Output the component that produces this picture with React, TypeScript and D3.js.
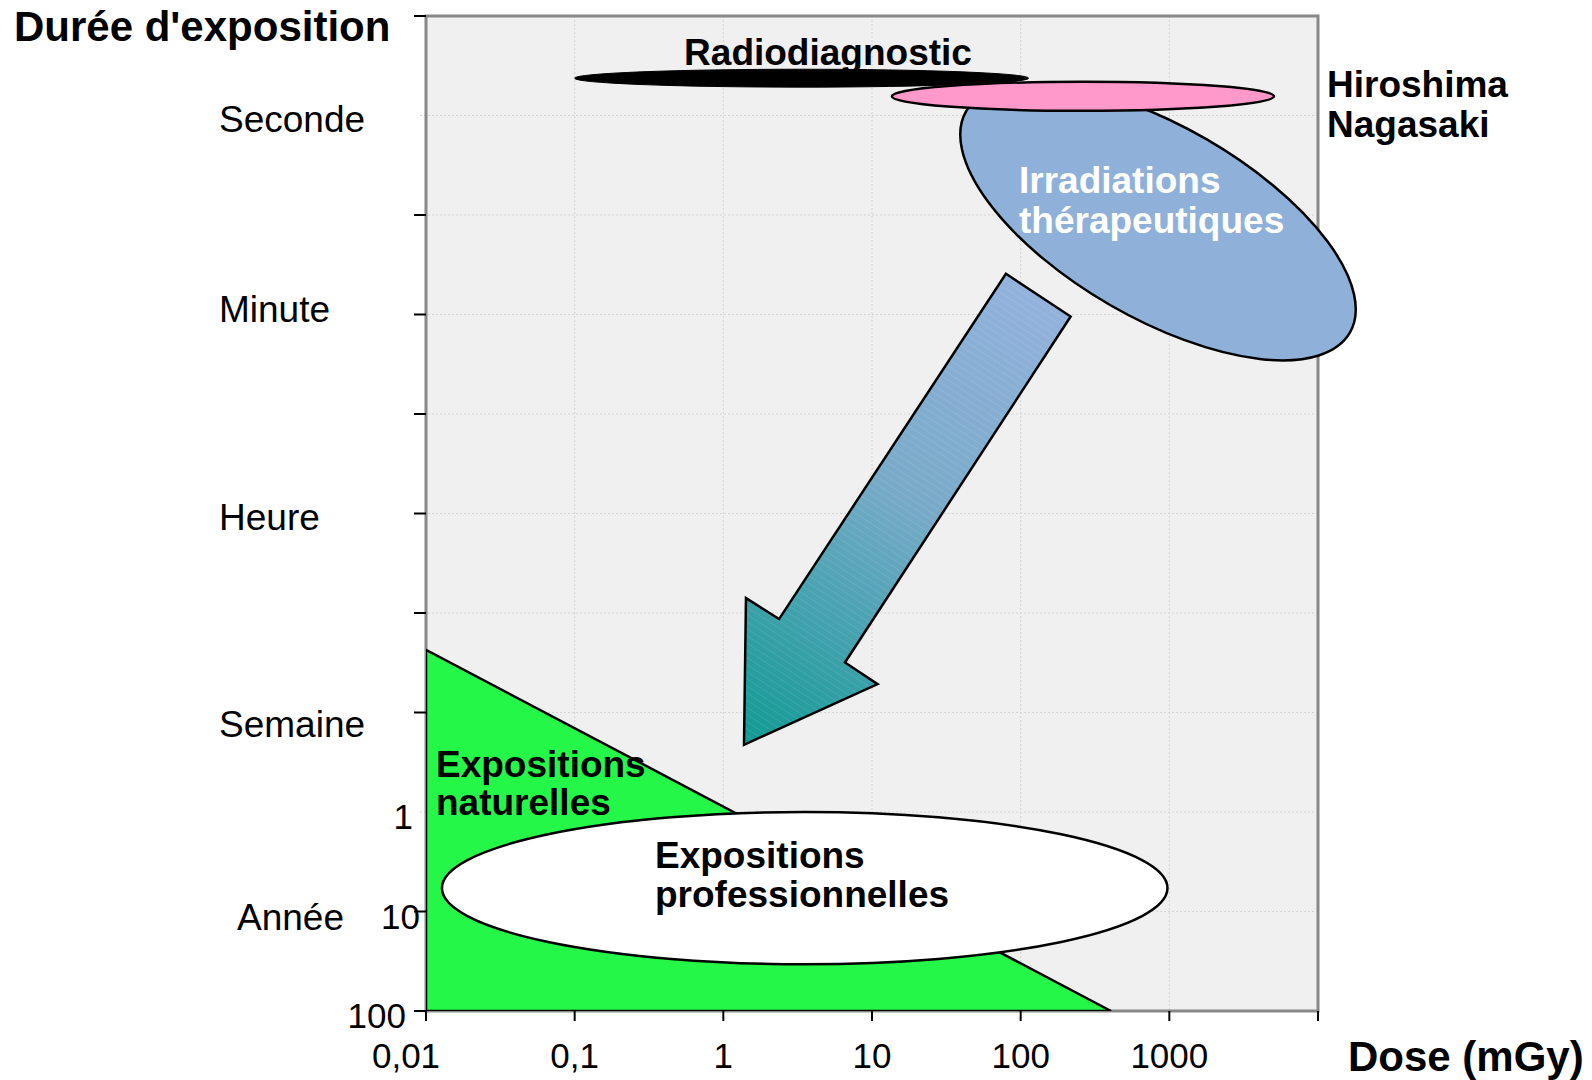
import React from 'react';
import * as d3 from 'd3';

// ---------- data ----------
const doseTicks = [0.01, 0.1, 1, 10, 100, 1000, 10000];
const doseTickLabels = ['0,01', '0,1', '1', '10', '100', '1000', ''];
const durationIdx = [0, 1, 2, 3, 4, 5, 6, 7, 8, 9, 10];
const faintTickIdx = [1, 8];
const durationNames = ['Seconde', 'Minute', 'Heure', 'Semaine', 'Année'];
const durationNamePos = [1.17, 3.08, 5.17, 7.25, 9.19];
const yearLabels = ['1', '10', '100'];
const yearIdx = [8, 9, 10];

// regions (dose in mGy, duration on index scale 0..10)
const radiodiagnostic = { doseMin: 0.1, doseMax: 113, idxMin: 0.535, idxMax: 0.715 };
const hiroshima = { doseMin: 13.6, doseMax: 5060, idxMin: 0.661, idxMax: 0.953 };
const therapy = { dose: 839, idx: 2.07, major: 1.49, minor: 0.645, angle: 30 }; // axes in decades
const professional = { doseMin: 0.0128, doseMax: 972, idxMin: 8.0, idxMax: 9.53 };
const naturalDose = [0.01, 0.01, 405];
const naturalIdx = [6.37, 10, 10];
const arrowDose = [79.6, 216.8, 6.58, 10.9, 1.377, 1.42, 2.37];
const arrowIdx = [2.591, 3.02, 6.497, 6.715, 7.325, 5.85, 6.061];

const W = 1592, H = 1080;
const PL = 426, PR = 1318, PT = 16, PB = 1011;
const FONT = "'Liberation Sans', Arial, Helvetica, sans-serif";

export default function App() {
  const x = d3.scaleLog().domain([0.01, 10000]).range([PL, PR]);
  const y = d3.scaleLinear().domain([0, 10]).range([PT, PB]);
  const decade = x(10) - x(1);

  const ell = (r: { doseMin: number; doseMax: number; idxMin: number; idxMax: number }) => ({
    cx: (x(r.doseMin) + x(r.doseMax)) / 2,
    cy: (y(r.idxMin) + y(r.idxMax)) / 2,
    rx: (x(r.doseMax) - x(r.doseMin)) / 2,
    ry: (y(r.idxMax) - y(r.idxMin)) / 2,
  });
  const rd = ell(radiodiagnostic);
  const hn = ell(hiroshima);
  const pr = ell(professional);
  const tcx = x(therapy.dose), tcy = y(therapy.idx);

  const line = d3.line<[number, number]>().x(d => d[0]).y(d => d[1]);
  const triPath = line(naturalDose.map((d, i) => [x(d), y(naturalIdx[i])] as [number, number])) + 'Z';
  const arrowPts = arrowDose.map((d, i) => [x(d), y(arrowIdx[i])] as [number, number]);
  const arrowPath = line(arrowPts) + 'Z';
  const tailMid = [(arrowPts[0][0] + arrowPts[1][0]) / 2, (arrowPts[0][1] + arrowPts[1][1]) / 2];
  const tip = arrowPts[4];

  const bold = { fontFamily: FONT, fontWeight: 700 as const, fontSize: 37 };
  const normal = { fontFamily: FONT, fontSize: 37 };
  const yearDx = [-13, -6, -20];

  return (
    <div style={{ position: 'absolute', left: 0, top: 0 }}>
      <svg width={W} height={H} viewBox={`0 0 ${W} ${H}`} style={{ display: 'block', background: '#fff' }}>
        <defs>
          <linearGradient id="arrowGrad" gradientUnits="userSpaceOnUse"
            x1={tailMid[0]} y1={tailMid[1]} x2={tip[0]} y2={tip[1]}>
            <stop offset="0" stopColor="#93b2dc" />
            <stop offset="0.45" stopColor="#78aac8" />
            <stop offset="1" stopColor="#109a94" />
          </linearGradient>
          <pattern id="hatch" patternUnits="userSpaceOnUse" width="6" height="6" patternTransform="rotate(33)">
            <line x1="0" y1="0" x2="6" y2="0" stroke="#ffffff" strokeOpacity="0.18" strokeWidth="1" />
          </pattern>
          <clipPath id="plotClip">
            <rect x={PL} y={PT} width={PR - PL} height={PB - PT} />
          </clipPath>
        </defs>

        {/* plot background */}
        <rect x={PL} y={PT} width={PR - PL} height={PB - PT} fill="#f0f0f0" />
        {/* grid */}
        {doseTicks.slice(1, -1).map(d => (
          <line key={'gx' + d} x1={x(d)} x2={x(d)} y1={PT} y2={PB} stroke="#d4d4d4" strokeWidth={1} strokeDasharray="2,2" />
        ))}
        {durationIdx.slice(1, -1).map(i => (
          <line key={'gy' + i} x1={PL - 6} x2={PR} y1={y(i)} y2={y(i)} stroke="#d4d4d4" strokeWidth={1} strokeDasharray="2,2" />
        ))}
        {/* border */}
        <rect x={PL} y={PT} width={PR - PL} height={PB - PT} fill="none" stroke="#888" strokeWidth={3} />

        {/* y ticks */}
        {durationIdx.filter(i => !faintTickIdx.includes(i)).map(i => (
          <line key={'ty' + i} x1={PL - 12} x2={PL} y1={y(i)} y2={y(i)} stroke="#000" strokeWidth={2} />
        ))}
        {/* x ticks */}
        {doseTicks.map(d => (
          <line key={'tx' + d} x1={x(d)} x2={x(d)} y1={PB} y2={PB + 10} stroke="#000" strokeWidth={2} />
        ))}

        <g clipPath="url(#plotClip)">
          {/* natural exposure triangle */}
          <path d={triPath} fill="#24f748" stroke="#000" strokeWidth={2.5} strokeLinejoin="miter" />
        </g>
        {/* professional ellipse */}
        <ellipse cx={pr.cx} cy={pr.cy} rx={pr.rx} ry={pr.ry} fill="#fff" stroke="#000" strokeWidth={2.5} />

        {/* arrow */}
        <path d={arrowPath} fill="url(#arrowGrad)" />
        <path d={arrowPath} fill="url(#hatch)" stroke="#000" strokeWidth={2.5} strokeLinejoin="miter" />

        {/* therapeutic ellipse */}
        <ellipse cx={tcx} cy={tcy} rx={therapy.major * decade} ry={therapy.minor * decade}
          transform={`rotate(${therapy.angle} ${tcx} ${tcy})`} fill="#8fb0d9" stroke="#000" strokeWidth={2.5} />
        {/* Hiroshima */}
        <ellipse cx={hn.cx} cy={hn.cy} rx={hn.rx} ry={hn.ry} fill="#ff99cc" stroke="#000" strokeWidth={2.5} />
        {/* Radiodiagnostic */}
        <ellipse cx={rd.cx} cy={rd.cy} rx={rd.rx} ry={rd.ry} fill="#000" stroke="#000" strokeWidth={1} />

        {/* region labels */}
        <text x={828} y={65} textAnchor="middle" {...bold}>Radiodiagnostic</text>
        <text x={PR + 9} y={97} {...bold}>Hiroshima</text>
        <text x={PR + 9} y={137} {...bold}>Nagasaki</text>
        <text x={1019} y={193} fill="#fff" {...bold}>Irradiations</text>
        <text x={1019} y={233} fill="#fff" {...bold}>thérapeutiques</text>
        <text x={436} y={777} {...bold}>Expositions</text>
        <text x={436} y={815} {...bold}>naturelles</text>
        <text x={655} y={868} {...bold}>Expositions</text>
        <text x={655} y={907} {...bold}>professionnelles</text>

        {/* y labels */}
        {durationNames.map((n, i) => (
          <text key={n} x={n === 'Année' ? 237 : 219} y={y(durationNamePos[i])} {...normal}>{n}</text>
        ))}
        {yearLabels.map((l, i) => (
          <text key={'yl' + l} x={PL + yearDx[i]} y={y(yearIdx[i]) + 17} textAnchor="end" {...normal} fontSize={35}>{l}</text>
        ))}
        {/* x labels */}
        {doseTicks.map((d, i) => (
          <text key={'xl' + d} x={x(d) + (i === 0 ? -20 : 0)} y={1068} textAnchor="middle" {...normal} fontSize={35}>{doseTickLabels[i]}</text>
        ))}

        {/* axis titles */}
        <text x={14} y={41} {...bold} fontSize={42}>Durée d'exposition</text>
        <text x={1348} y={1071} {...bold} fontSize={42}>Dose (mGy)</text>
      </svg>
    </div>
  );
}
